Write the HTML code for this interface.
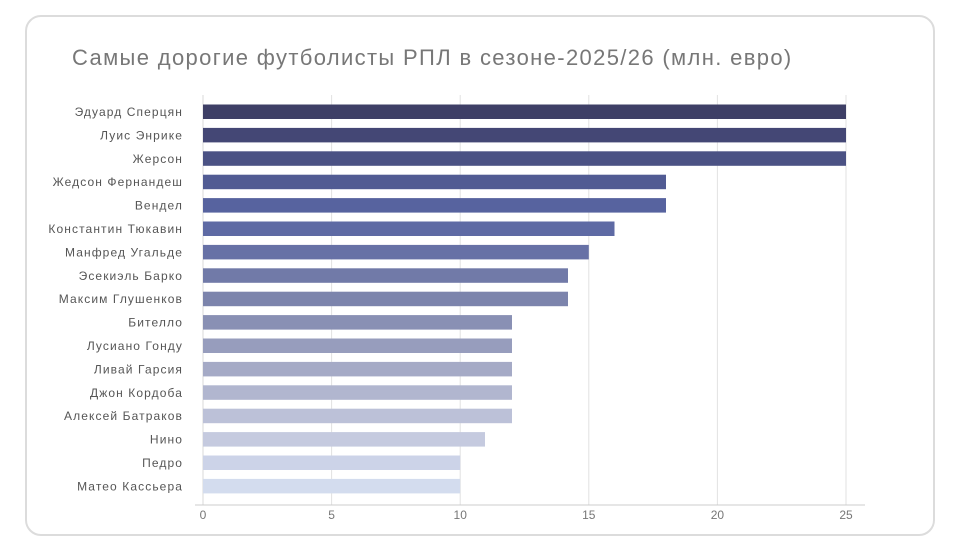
<!DOCTYPE html>
<html><head><meta charset="utf-8"><style>
body{margin:0;width:960px;height:550px;background:#fff;font-family:"Liberation Sans","Noto Sans CJK SC",sans-serif;}
.card{position:absolute;left:25px;top:15px;width:910px;height:521px;border:2px solid #dcdcdc;border-radius:16px;box-sizing:border-box;}
.title{position:absolute;left:72px;top:45px;font-size:22px;color:#777;letter-spacing:1.35px;white-space:nowrap;}
</style></head><body>
<div class="card"></div>
<div class="title">Самые дорогие футболисты РПЛ в сезоне-2025/26 (млн. евро)</div>
<svg width="960" height="550" style="position:absolute;left:0;top:0" font-family="Liberation Sans, sans-serif">
<g stroke="#e2e2e2" stroke-width="1">
<line x1="331.6" y1="95" x2="331.6" y2="505"/><line x1="460.2" y1="95" x2="460.2" y2="505"/><line x1="588.8" y1="95" x2="588.8" y2="505"/><line x1="717.4" y1="95" x2="717.4" y2="505"/><line x1="846" y1="95" x2="846" y2="505"/>
<line x1="203" y1="95" x2="203" y2="505" stroke="#d8d8d8"/>
</g>
<line x1="195" y1="505" x2="865" y2="505" stroke="#ccc"/>
<g font-size="12" fill="#777" text-anchor="middle">
<text x="203" y="519">0</text><text x="331.6" y="519">5</text><text x="460.2" y="519">10</text><text x="588.8" y="519">15</text><text x="717.4" y="519">20</text><text x="846" y="519">25</text>
</g>
<g font-size="12" fill="#555" text-anchor="end" letter-spacing="1.1">
<text x="183" y="116">Эдуард Сперцян</text>
<text x="183" y="139.4">Луис Энрике</text>
<text x="183" y="162.8">Жерсон</text>
<text x="183" y="186.2">Жедсон Фернандеш</text>
<text x="183" y="209.6">Вендел</text>
<text x="183" y="233">Константин Тюкавин</text>
<text x="183" y="256.4">Манфред Угальде</text>
<text x="183" y="279.8">Эсекиэль Барко</text>
<text x="183" y="303.2">Максим Глушенков</text>
<text x="183" y="326.6">Бителло</text>
<text x="183" y="350">Лусиано Гонду</text>
<text x="183" y="373.4">Ливай Гарсия</text>
<text x="183" y="396.8">Джон Кордоба</text>
<text x="183" y="420.2">Алексей Батраков</text>
<text x="183" y="443.6">Нино</text>
<text x="183" y="467">Педро</text>
<text x="183" y="490.4">Матео Кассьера</text>
</g>
<g>
<rect x="203" y="104.5" width="643" height="14.5" fill="#3e3f66"/>
<rect x="203" y="127.9" width="643" height="14.5" fill="#444775"/>
<rect x="203" y="151.3" width="643" height="14.5" fill="#4b5284"/>
<rect x="203" y="174.7" width="463" height="14.5" fill="#515b93"/>
<rect x="203" y="198.1" width="463" height="14.5" fill="#57639f"/>
<rect x="203" y="221.5" width="411.5" height="14.5" fill="#5e6aa4"/>
<rect x="203" y="244.9" width="385.8" height="14.5" fill="#6771a6"/>
<rect x="203" y="268.3" width="365" height="14.5" fill="#717aa8"/>
<rect x="203" y="291.7" width="365" height="14.5" fill="#7c84ac"/>
<rect x="203" y="315.1" width="309" height="14.5" fill="#8990b4"/>
<rect x="203" y="338.5" width="309" height="14.5" fill="#979dbd"/>
<rect x="203" y="361.9" width="309" height="14.5" fill="#a5aac6"/>
<rect x="203" y="385.3" width="309" height="14.5" fill="#b1b6cf"/>
<rect x="203" y="408.7" width="309" height="14.5" fill="#bcc1d8"/>
<rect x="203" y="432.1" width="282" height="14.5" fill="#c5cadf"/>
<rect x="203" y="455.5" width="257.2" height="14.5" fill="#ccd3e8"/>
<rect x="203" y="478.9" width="257.2" height="14.5" fill="#d3dcee"/>
</g>
</svg>
</body></html>
